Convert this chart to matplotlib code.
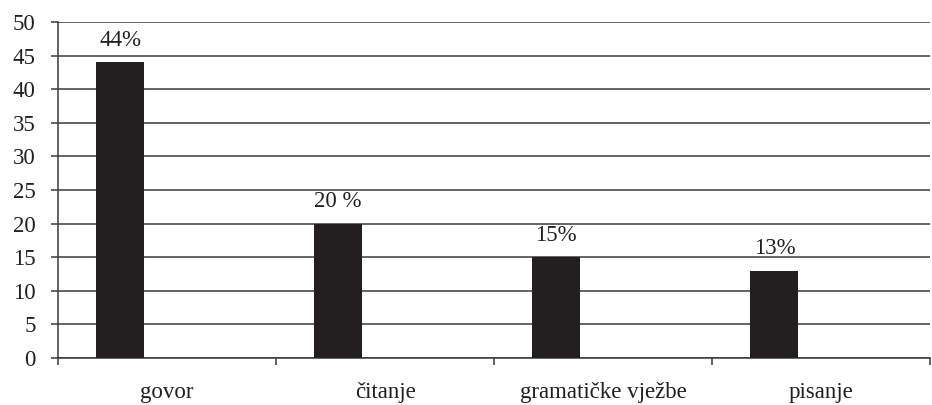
import matplotlib
matplotlib.use("Agg")
import matplotlib.pyplot as plt
import numpy as np

categories = ["govor", "čitanje", "gramatičke vježbe", "pisanje"]
values = [44, 20, 15, 13]
value_labels = ["44%", "20 %", "15%", "13%"]
y_ticks = [0, 5, 10, 15, 20, 25, 30, 35, 40, 45, 50]

plt.rcParams["font.family"] = ["Liberation Serif", "DejaVu Serif"]

fig = plt.figure(figsize=(9.32, 4.05), dpi=100)
ax = fig.add_axes([0.0622, 0.116, 0.936, 0.8297])

x = np.arange(len(categories))
bar_w = 0.22
bar_x = x - 0.215
ax.bar(bar_x, values, width=bar_w, color="#231f20", zorder=3)

for bx, v, lab in zip(bar_x, values, value_labels):
    ax.text(bx, v + 3.3, lab, ha="center", va="center", fontsize=16.5, color="#231f20")

ax.set_xlim(-0.5, len(categories) - 0.5)
ax.set_ylim(0, 50)
ax.set_yticks(y_ticks)
ax.grid(axis="y", color="#3a3a3a", linewidth=1.1, zorder=0)

ax.set_xticks(x)
ax.set_xticklabels(categories, fontsize=16.5, color="#231f20")
ax.set_xticks(np.arange(len(categories) + 1) - 0.5, minor=True)
ax.tick_params(axis="x", which="major", length=0, pad=17)
ax.tick_params(axis="x", which="minor", length=5, width=1.1, color="#3a3a3a")
ax.tick_params(axis="y", length=5, width=1.1, color="#3a3a3a", labelsize=16.5,
               labelcolor="#231f20", pad=11)

for side in ["top", "right"]:
    ax.spines[side].set_visible(False)
for side in ["left", "bottom"]:
    ax.spines[side].set_color("#3a3a3a")
    ax.spines[side].set_linewidth(1.1)

fig.savefig("out.png", dpi=100, facecolor="white")
